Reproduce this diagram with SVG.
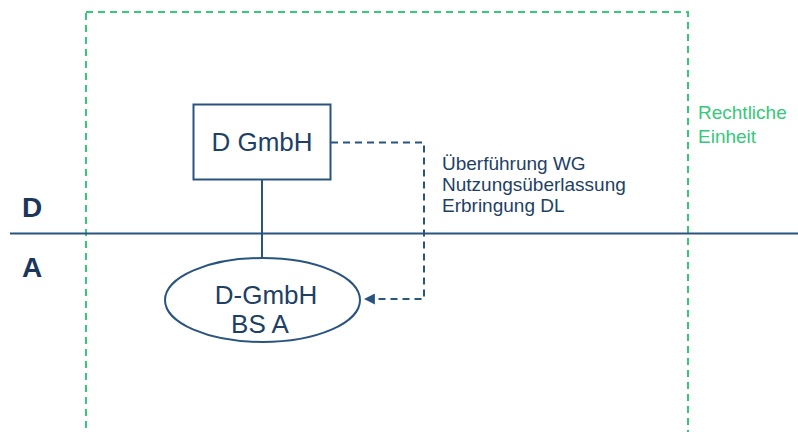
<svg xmlns="http://www.w3.org/2000/svg" width="798" height="432" viewBox="0 0 798 432">
  <style>
    .boundary { fill: none; stroke: #35c97a; stroke-width: 2; stroke-dasharray: 7 5; }
    .line { fill: none; stroke: #2a5480; stroke-width: 2; }
    .flow { fill: none; stroke: #2a5480; stroke-width: 2; stroke-dasharray: 7 5; }
    .node { fill: #ffffff; stroke: #2a5480; stroke-width: 2; }
    .label { font-family: "Liberation Sans", Arial, sans-serif; fill: #1e3f66; }
    .country { font-family: "Liberation Sans", Arial, sans-serif; font-weight: bold; font-size: 28px; fill: #1a365d; }
    .legal { font-family: "Liberation Sans", Arial, sans-serif; font-size: 19px; fill: #35c97a; }
  </style>
  <defs>
    <marker id="arrowhead" viewBox="0 0 10 10" refX="9" refY="5" markerWidth="5.5" markerHeight="5.5" orient="auto" markerUnits="strokeWidth">
      <path d="M0,0 L10,5 L0,10 z" fill="#2a5480"/>
    </marker>
  </defs>

  <rect width="798" height="432" fill="#ffffff"/>

  <!-- legal entity boundary -->
  <g id="legal-entity">
    <rect class="boundary" x="86" y="12" width="602" height="440"/>
    <text class="legal" x="698" y="119">Rechtliche</text>
    <text class="legal" x="698" y="143">Einheit</text>
  </g>

  <!-- country border -->
  <g id="border">
    <line class="line" x1="10" y1="233.5" x2="798" y2="233.5"/>
    <text class="country" x="22" y="217">D</text>
    <text class="country" x="22" y="277">A</text>
  </g>

  <!-- connectors -->
  <g id="connectors">
    <line class="line" x1="262" y1="179" x2="262" y2="258"/>
    <polyline class="flow" points="331,142.5 424,142.5 424,299 365,299" marker-end="url(#arrowhead)"/>
    <text class="label" font-size="19" x="442" y="170">Überführung WG</text>
    <text class="label" font-size="19" x="442" y="191">Nutzungsüberlassung</text>
    <text class="label" font-size="19" x="442" y="212">Erbringung DL</text>
  </g>

  <g id="d-gmbh">
    <rect class="node" x="193.5" y="104.5" width="137" height="75"/>
    <text class="label" font-size="26" x="262" y="151" text-anchor="middle">D GmbH</text>
  </g>

  <g id="bs-a">
    <ellipse class="node" cx="262.5" cy="300" rx="97.5" ry="42"/>
    <text class="label" font-size="26" x="266" y="304" text-anchor="middle">D-GmbH</text>
    <text class="label" font-size="26" x="260" y="333" text-anchor="middle">BS A</text>
  </g>
</svg>
